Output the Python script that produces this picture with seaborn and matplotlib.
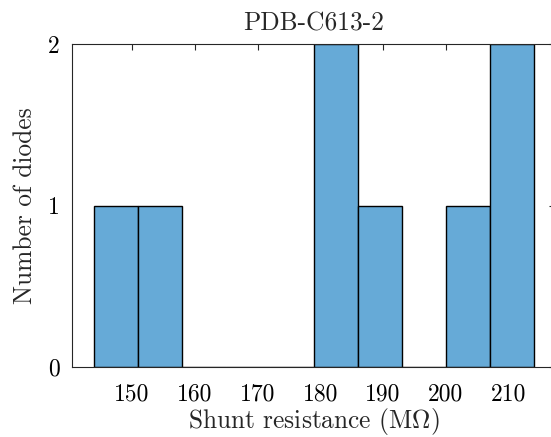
import matplotlib
matplotlib.use("Agg")
import matplotlib.pyplot as plt
import seaborn as sns
import numpy as np
import pandas as pd

# Data
bin_edges = [144, 151, 158, 165, 172, 179, 186, 193, 200, 207, 214]
counts = [1, 1, 0, 0, 0, 2, 1, 0, 1, 2]
x_ticks = [150, 160, 170, 180, 190, 200, 210]
y_ticks = [0, 1, 2]
title = "PDB-C613-2"
xlabel = r"Shunt resistance (M$\Omega$)"
ylabel = "Number of diodes"

centers = [(a + b) / 2 for a, b in zip(bin_edges[:-1], bin_edges[1:])]
df = pd.DataFrame({"R": centers, "n": counts})

sns.set_style("white")
plt.rcParams["font.family"] = ["cmr10"]
plt.rcParams["mathtext.fontset"] = "cm"
plt.rcParams["axes.formatter.use_mathtext"] = True
plt.rcParams["axes.unicode_minus"] = False

fig = plt.figure(figsize=(5.51, 4.37), dpi=100)
ax = fig.add_axes([72 / 551, 1 - 367 / 437, (555 - 72) / 551, (367 - 44) / 437])

sns.histplot(data=df, x="R", weights="n", bins=bin_edges, ax=ax,
             color="#66AAD7", alpha=1.0, edgecolor="black", linewidth=1.0)

ax.set_xlim(140.43, 217.4)
ax.set_ylim(0, 2)
ax.set_xticks(x_ticks)
ax.set_yticks(y_ticks)
ax.set_xticklabels([str(t) for t in x_ticks])
ax.set_yticklabels([str(t) for t in y_ticks])

fs_tick = 17
fs_lab = 18.3
ax.tick_params(direction="in", length=4, width=0.8, top=True, right=True,
               labelsize=fs_tick, colors="#262626")
ax.tick_params(axis="x", pad=12)
ax.tick_params(axis="y", pad=9)
for lbl in ax.get_xticklabels() + ax.get_yticklabels():
    lbl.set_color("black")
for s in ax.spines.values():
    s.set_color("#262626")
    s.set_linewidth(0.8)

ax.set_xlabel(xlabel, fontsize=fs_lab, labelpad=0)
ax.set_ylabel(ylabel, fontsize=fs_lab, labelpad=8)
ax.set_title(title, fontsize=fs_lab, pad=10)

fig.savefig("out.png", dpi=100)
